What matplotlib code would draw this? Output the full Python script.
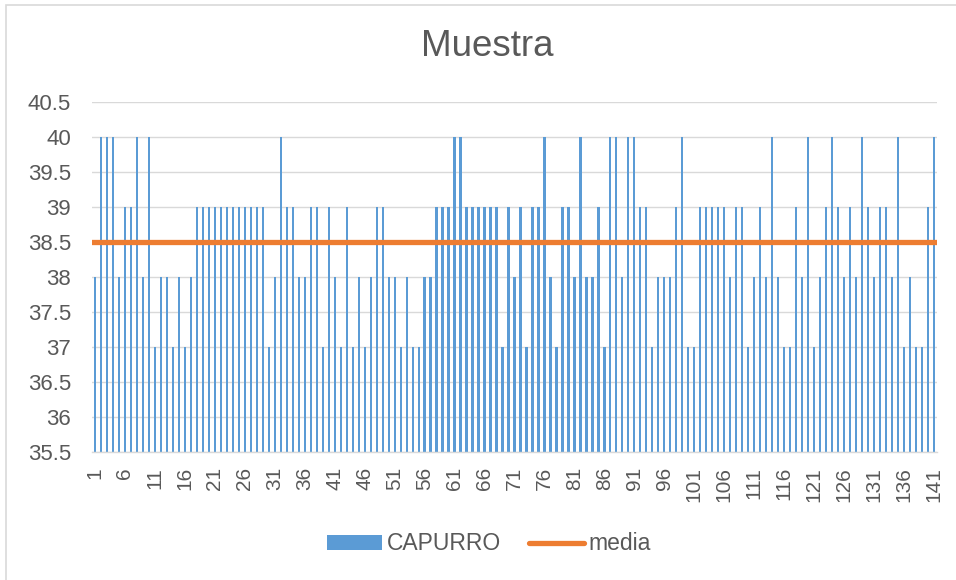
import matplotlib
matplotlib.use("Agg")
from matplotlib import pyplot as plt
from matplotlib.patches import Rectangle, Patch
from matplotlib.lines import Line2D
import numpy as np

plt.rcParams['font.family'] = ['Liberation Sans', 'DejaVu Sans']

TEXT = "#595959"
GRID = "#D9D9D9"
BLUE = "#5B9BD5"
ORANGE = "#ED7D31"

# valores CAPURRO, muestra 1..141
capurro = [
    38, 40, 40, 40, 38, 39, 39, 40, 38, 40,
    37, 38, 38, 37, 38, 37, 38, 39, 39, 39,
    39, 39, 39, 39, 39, 39, 39, 39, 39, 37,
    38, 40, 39, 39, 38, 38, 39, 39, 37, 39,
    38, 37, 39, 37, 38, 37, 38, 39, 39, 38,
    38, 37, 38, 37, 37, 38, 38, 39, 39, 39,
    40, 40, 39, 39, 39, 39, 39, 39, 37, 39,
    38, 39, 37, 39, 39, 40, 38, 37, 39, 39,
    38, 40, 38, 38, 39, 37, 40, 40, 38, 40,
    40, 39, 39, 37, 38, 38, 38, 39, 40, 37,
    37, 39, 39, 39, 39, 39, 38, 39, 39, 37,
    38, 39, 38, 40, 38, 37, 37, 39, 38, 40,
    37, 38, 39, 40, 39, 38, 39, 38, 40, 39,
    38, 39, 39, 38, 40, 37, 38, 37, 37, 39,
    40,
]
categories = [str(i) for i in range(1, len(capurro) + 1)]
media = 38.5

y_ticks = [35.5, 36, 36.5, 37, 37.5, 38, 38.5, 39, 39.5, 40, 40.5]

fig = plt.figure(figsize=(9.56, 5.8), dpi=100)
ax = fig.add_axes([92/956, 1 - 451.7/580, 845/956, 350/580])

x = np.arange(1, len(capurro) + 1)
ax.bar(x, capurro, width=0.37, color=BLUE, zorder=2)
ax.axhline(media, color=ORANGE, linewidth=3.8, zorder=3)

ax.set_xlim(0.5, len(capurro) + 0.5)
ax.set_ylim(y_ticks[0], y_ticks[-1])
ax.set_yticks(y_ticks)
ax.set_yticklabels([f"{v:g}" for v in y_ticks])
ax.set_xticks(x[::5])
ax.set_xticklabels(categories[::5], rotation=90)

ax.grid(axis="y", color=GRID, linewidth=1.0, zorder=0)
ax.set_axisbelow(True)
for side in ["left", "right", "top"]:
    ax.spines[side].set_visible(False)
ax.spines["bottom"].set_color(GRID)
ax.spines["bottom"].set_linewidth(1.0)
ax.tick_params(axis="y", length=0, pad=15, labelsize=16, labelcolor=TEXT)
ax.tick_params(axis="x", length=0, pad=11, labelsize=15, labelcolor=TEXT)

fig.text(487/956, 1 - 46/580, "Muestra", ha="center", va="center",
         fontsize=26.5, color=TEXT)

handles = [Patch(facecolor=BLUE, edgecolor="none"),
           Line2D([0], [0], color=ORANGE, linewidth=3.8, solid_capstyle="round")]
fig.legend(handles, ["CAPURRO", "media"], loc="center",
           bbox_to_anchor=(489/956, 1 - 544/580), ncol=2, frameon=False,
           fontsize=16.5, labelcolor=TEXT, handlelength=2.4, handleheight=0.6,
           handletextpad=0.2, columnspacing=1.2)

# borde del grafico
fig.patches.append(Rectangle((6/956, -0.1), 1.0, 1.1 - 5/580, transform=fig.transFigure,
                             fill=False, edgecolor=GRID, linewidth=1.2))

fig.savefig("out.png", dpi=100, facecolor="white")
